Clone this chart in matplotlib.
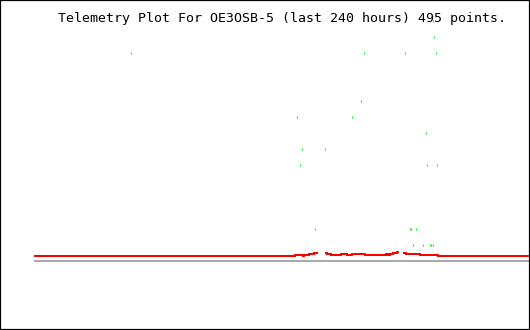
import matplotlib
matplotlib.use("Agg")
import matplotlib.pyplot as plt
import numpy as np

title = "Telemetry Plot For OE3OSB-5 (last 240 hours) 495 points."

# red series: step breakpoints (hours, value); NaN = data gap
red_hours = [0, 126.5, 130.5, 131, 133.5, 136, 137.5, 141, 142, 144, 149, 152,
             154, 160.5, 170.5, 171.5, 172.5, 174, 176, 177, 179, 180.5, 187,
             196, 240]
red_vals = [0.3125, 0.375, 0.3125, 0.375, 0.4375, 0.5, np.nan, 0.5, 0.4375,
            0.375, 0.4375, 0.375, 0.4375, 0.375, 0.4375, 0.375, 0.4375, 0.5,
            0.5625, np.nan, 0.5, 0.4375, 0.375, 0.3125, 0.3125]

# green scattered points
green_hours = [47.0, 193.5, 193.9, 160.0, 179.9, 194.9, 158.5, 127.5, 154.2,
               190.1, 129.9, 141.1, 129.0, 190.5, 195.4, 136.2, 182.5, 183.0,
               185.2, 183.8, 188.6, 191.8, 192.3, 193.3]
green_vals = [13, 15, 14, 13, 13, 13, 10, 9, 9, 8, 7, 7, 6, 6, 6, 2, 2, 2, 2,
              1, 1, 1, 1, 1]

baseline_hours = [0, 240]
baseline_vals = [0, 0]

fig = plt.figure(figsize=(5.3, 3.3), dpi=100)
ax = fig.add_axes([0, 0, 1, 1])
px_per_h = 495 / 240
ax.set_xlim(-34 / px_per_h, 240 + 1 / px_per_h)
ax.set_ylim(-69 / 16, 261 / 16)
ax.set_xticks([])
ax.set_yticks([])
for s in ax.spines.values():
    s.set_color("black")
    s.set_linewidth(1.6)

ax.plot(baseline_hours, baseline_vals, color="#aaaaaa", lw=1.44,
        solid_capstyle="butt", antialiased=False)
ax.plot(red_hours, red_vals, color="#ff0000", lw=1.44, drawstyle="steps-post",
        solid_capstyle="butt", antialiased=False)
ax.plot(green_hours, green_vals, linestyle="none", marker="|", color="#00ff00",
        markersize=1.6, markeredgewidth=0.8, antialiased=False)

fig.text(282 / 530, 1 - 22 / 330, title, family="DejaVu Sans Mono",
         fontsize=9.5, ha="center", va="baseline", color="black")

fig.savefig("out.png", dpi=100)
